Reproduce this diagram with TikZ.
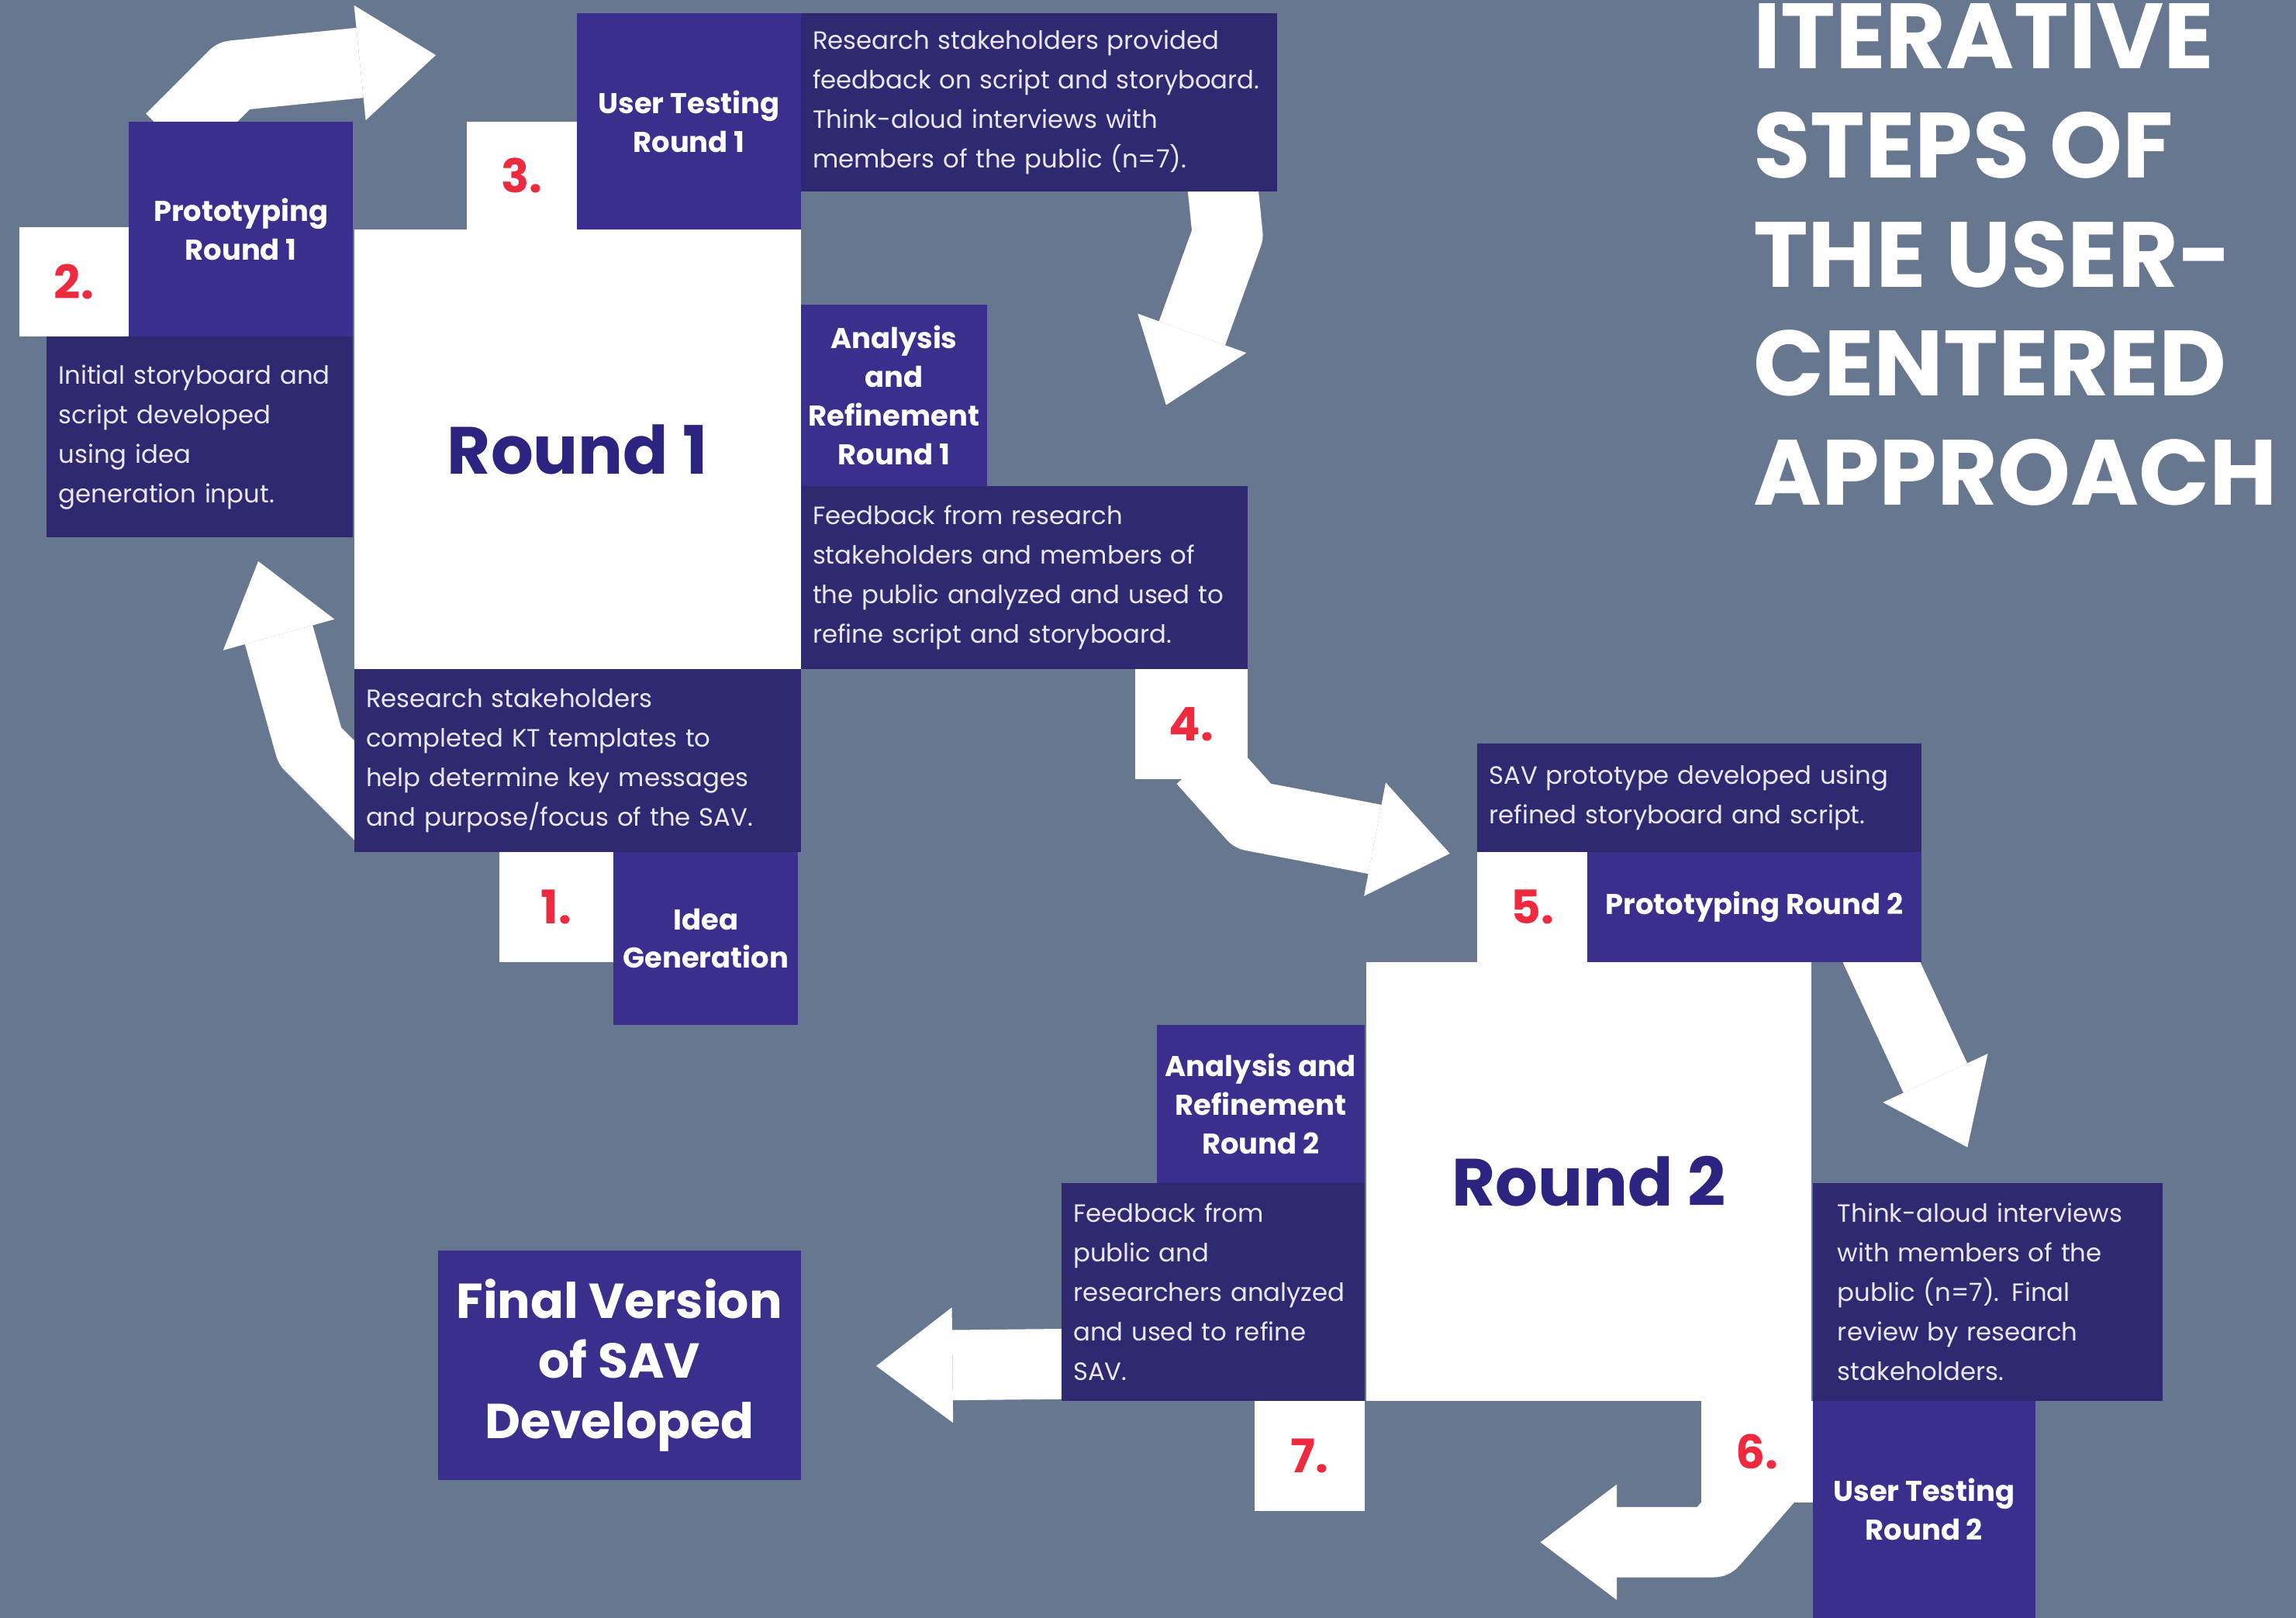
\documentclass[tikz,border=0pt]{standalone}
\usepackage{fontspec}
\setmainfont{Poppins}
\usepackage{xcolor}
\usepackage{tikz}
\usetikzlibrary{arrows.meta, positioning, calc, backgrounds}
\definecolor{savbg}{RGB}{102,119,143}
\definecolor{savhead}{RGB}{59,47,142}
\definecolor{savtext}{RGB}{47,41,114}
\definecolor{savred}{RGB}{238,42,63}
\definecolor{savround}{RGB}{44,36,128}
\definecolor{savlight}{RGB}{234,232,246}
\newcommand{\px}{0.1888mm}
\tikzset{
  head/.style={fill=savhead, text=white, align=center, inner sep=0pt,
    font=\bfseries\fontsize{10.5}{14.2}\selectfont},
  desc/.style={fill=savtext, text=savlight, align=left, inner xsep=8*\px, inner ysep=0pt,
    font=\fontsize{9.2}{14.5}\selectfont},
  numbox/.style={fill=white, text=savred, inner sep=0pt,
    font=\bfseries\fontsize{17}{20}\selectfont},
  roundbox/.style={fill=white, text=savround, inner sep=0pt,
    font=\bfseries\fontsize{24.5}{30}\selectfont},
  flow/.style={draw=white, line width=25.8pt, line join=round,
    -{Triangle[length=28pt, width=42.4pt, line width=0pt]}}
}

\begin{document}
\begin{tikzpicture}[x=\px, y=-\px]
\useasboundingbox (0,0) rectangle (1568,1105);

% round 1
\node[roundbox, minimum width=305*\px, minimum height=300*\px] (round1) at (394.5,307) {Round 1};
\node[numbox, minimum width=78*\px, minimum height=75*\px] (num1) at (380,619.5) {1.};
\node[head, minimum width=126*\px, minimum height=118*\px] (idea) at (482,641) {Idea\\Generation};
\node[desc, text width=289*\px, minimum height=125*\px] (kt) at (394.5,519.5)
  {Research stakeholders\\completed KT templates to\\help determine key messages\\and purpose/focus of the SAV.};
\node[numbox, minimum width=75*\px, minimum height=75*\px] (num2) at (50.5,192.5) {2.};
\node[head, minimum width=153*\px, minimum height=147*\px] (proto1) at (164.5,156.5) {Prototyping\\Round 1};
\node[desc, text width=193*\px, minimum height=137*\px] (init) at (136.5,298.5)
  {Initial storyboard and\\script developed\\using idea\\generation input.};
\node[numbox, minimum width=75*\px, minimum height=74*\px] (num3) at (356.5,120) {3.};
\node[head, minimum width=153*\px, minimum height=148*\px] (ut1) at (470.5,83) {User Testing\\Round 1};
\node[desc, text width=309*\px, minimum height=122*\px] (fb1) at (709.5,70)
  {Research stakeholders provided\\feedback on script and storyboard.\\Think-aloud interviews with\\members of the public (n=7).};
\node[head, minimum width=127*\px, minimum height=124*\px] (ar1) at (610.5,270) {Analysis\\and\\Refinement\\Round 1};
\node[desc, text width=289*\px, minimum height=125*\px] (an1) at (699.5,394.5)
  {Feedback from research\\stakeholders and members of\\the public analyzed and used to\\refine script and storyboard.};
\node[numbox, minimum width=77*\px, minimum height=75*\px] (num4) at (813.5,494.5) {4.};

% round 2
\node[roundbox, minimum width=304*\px, minimum height=300*\px] (round2) at (1085,807) {Round 2};
\node[desc, text width=287*\px, minimum height=74*\px] (sav) at (1160.5,545)
  {SAV prototype developed using\\refined storyboard and script.};
\node[numbox, minimum width=75*\px, minimum height=75*\px] (num5) at (1046.5,619.5) {5.};
\node[head, minimum width=228*\px, minimum height=75*\px] (proto2) at (1198,619.5) {Prototyping Round 2};
\node[desc, text width=205*\px, inner xsep=17*\px, minimum height=149*\px] (think) at (1357.5,882.5)
  {Think-aloud interviews\\with members of the\\public (n=7). Final\\review by research\\stakeholders.};
\node[numbox, minimum width=76*\px, minimum height=69*\px] (num6) at (1200,991.5) {6.};
\node[head, minimum width=152*\px, minimum height=148*\px] (ut2) at (1314,1031) {User Testing\\Round 2};
\node[head, minimum width=142*\px, minimum height=108*\px] (ar2) at (861,754) {Analysis and\\Refinement\\Round 2};
\node[desc, text width=191*\px, minimum height=149*\px] (fb2) at (828.5,882.5)
  {Feedback from\\public and\\researchers analyzed\\and used to refine\\SAV.};
\node[numbox, minimum width=75*\px, minimum height=75*\px] (num7) at (894.5,994.5) {7.};
\node[head, minimum width=248*\px, minimum height=157*\px, font=\bfseries\fontsize{18}{22}\selectfont]
  (final) at (423,932.5) {Final Version\\of SAV\\Developed};

\node[text=white, align=left, inner sep=0pt, anchor=west, font=\bfseries\fontsize{34}{40}\selectfont]
  (title) at (1197,174) {ITERATIVE\\STEPS OF\\THE USER-\\CENTERED\\APPROACH};

% arrows behind the boxes
\begin{scope}[on background layer]
\fill[savbg] (0,0) rectangle (1568,1105);
\draw[flow] ($(kt.west)+(20,40)$) -- ($(kt.west)+(-30,-10)$) -- ($(init.south east)+(-65,16)$);
\draw[flow] ($(proto1.north west)+(29,12)$) -- ($(proto1.north west)+(72,-31)$) -- ($(num3.north west)+(-21,-45)$);
\draw[flow] ($(fb1.south east)+(-38,-10)$) -- ($(fb1.south east)+(-34,29)$) -- ($(ar1.north east)+(122,69)$);
\draw[flow] ($(num4.south)+(8,-13)$) -- ($(num4.south)+(42,25)$) -- ($(sav.west)+(-18.5,38)$);
\draw[flow] ($(proto2.south east)+(-32,-10)$) -- ($(think.north west)+(106,-24)$);
\draw[flow] ($(num6.south)+(15,-25)$) -- ($(num6.south)+(-30,27)$) -- ($(num6.south)+(-148,27)$);
\draw[flow] ($(fb2.west)+(15,49)$) -- ($(final.east)+(51,0.5)$);
\end{scope}
\end{tikzpicture}
\end{document}
